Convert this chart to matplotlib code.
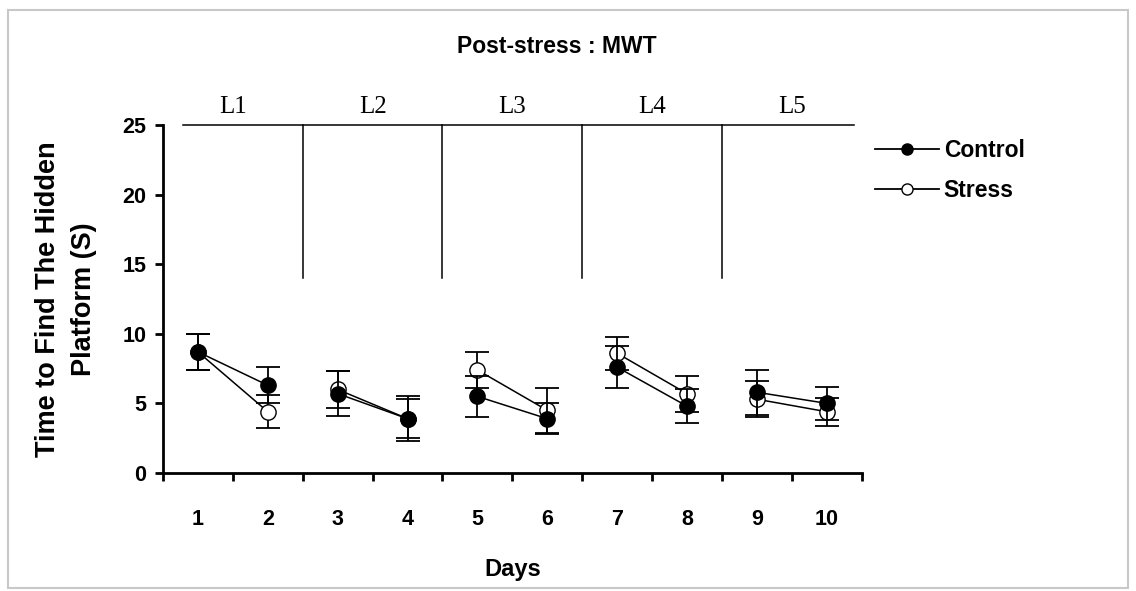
import numpy as np
import matplotlib
matplotlib.use('Agg')
import matplotlib.pyplot as plt
from matplotlib.patches import Rectangle
from matplotlib.lines import Line2D

plt.rcParams['font.family'] = 'Liberation Sans'

# ---- données ----
days = [1, 2, 3, 4, 5, 6, 7, 8, 9, 10]
control = [8.7, 6.3, 5.7, 3.9, 5.5, 3.9, 7.6, 4.8, 5.8, 5.0]
control_err = [1.3, 1.3, 1.6, 1.6, 1.5, 1.1, 1.5, 1.2, 1.6, 1.2]
stress = [8.7, 4.4, 6.0, 3.9, 7.4, 4.5, 8.6, 5.7, 5.3, 4.4]
stress_err = [1.3, 1.2, 1.3, 1.4, 1.3, 1.6, 1.2, 1.3, 1.3, 1.0]
levels = ['L1', 'L2', 'L3', 'L4', 'L5']
level_bounds = [2.5, 4.5, 6.5, 8.5]

fig = plt.figure(figsize=(11.36, 5.91), dpi=100)
ax = fig.add_axes([0.1435, 0.1997, 0.615, 0.5888])

# cadre gris autour de l'image
fig.patches.append(Rectangle((0.007, 0.005), 0.986, 0.978, transform=fig.transFigure,
                             fill=False, edgecolor='#c8c8c8', linewidth=1.5))

# paires de jours reliées (L1..L5)
for k in range(5):
    i = slice(2 * k, 2 * k + 2)
    ax.errorbar(days[i], stress[i], yerr=stress_err[i], color='black', marker='o',
                mfc='white', mec='black', ms=11, lw=1.1, elinewidth=1.3,
                capsize=8.5, capthick=1.3, zorder=3)
    ax.errorbar(days[i], control[i], yerr=control_err[i], color='black', marker='o',
                mfc='black', mec='black', ms=11, lw=1.1, elinewidth=1.3,
                capsize=8.5, capthick=1.3, zorder=4)

# ligne horizontale et séparateurs des niveaux
ax.plot([0.79, 10.39], [25, 25], color='black', lw=1.1, clip_on=False)
for b in level_bounds:
    ax.plot([b, b], [14, 25], color='black', lw=1.1, clip_on=False)
for k, lab in enumerate(levels):
    ax.text(1.5 + 2 * k, 25.5, lab, ha='center', va='bottom', fontsize=18,
            family='Liberation Serif')

ax.set_xlim(0.5, 10.5)
ax.set_ylim(0, 25)
ax.spines['top'].set_visible(False)
ax.spines['right'].set_visible(False)
ax.spines['left'].set_linewidth(2)
ax.spines['bottom'].set_linewidth(2)

ax.set_yticks([0, 5, 10, 15, 20, 25])
ax.set_xticks(np.arange(0.5, 11, 1.0))
ax.set_xticklabels([])
ax.set_xticks(days, minor=True)
ax.set_xticklabels([str(d) for d in days], minor=True)
ax.tick_params(axis='x', which='minor', length=0, pad=26)
ax.tick_params(axis='both', which='major', direction='out', length=6, width=2)
for lbl in ax.get_xticklabels(minor=True) + ax.get_yticklabels():
    lbl.set_fontsize(15.5)
    lbl.set_fontweight('bold')
ax.tick_params(axis='y', pad=6)

ax.set_xlabel('Days', fontsize=17, fontweight='bold', labelpad=20)
ax.set_ylabel('Time to Find The Hidden\nPlatform (S)', fontsize=19.5, fontweight='bold',
              labelpad=18, linespacing=1.5)
fig.text(0.49, 0.922, 'Post-stress : MWT', ha='center', va='center', fontsize=16.5,
         fontweight='bold')

handles = [Line2D([], [], color='black', lw=1.3, marker='o', ms=8, mfc='black', mec='black'),
           Line2D([], [], color='black', lw=1.3, marker='o', ms=8, mfc='white', mec='black')]
fig.legend(handles, ['Control', 'Stress'], loc='upper left', bbox_to_anchor=(0.752, 0.8),
           frameon=False, prop={'size': 16.5, 'weight': 'bold'}, handlelength=2.8,
           handletextpad=0.2, labelspacing=0.75)

plt.savefig('out.png', dpi=100)
